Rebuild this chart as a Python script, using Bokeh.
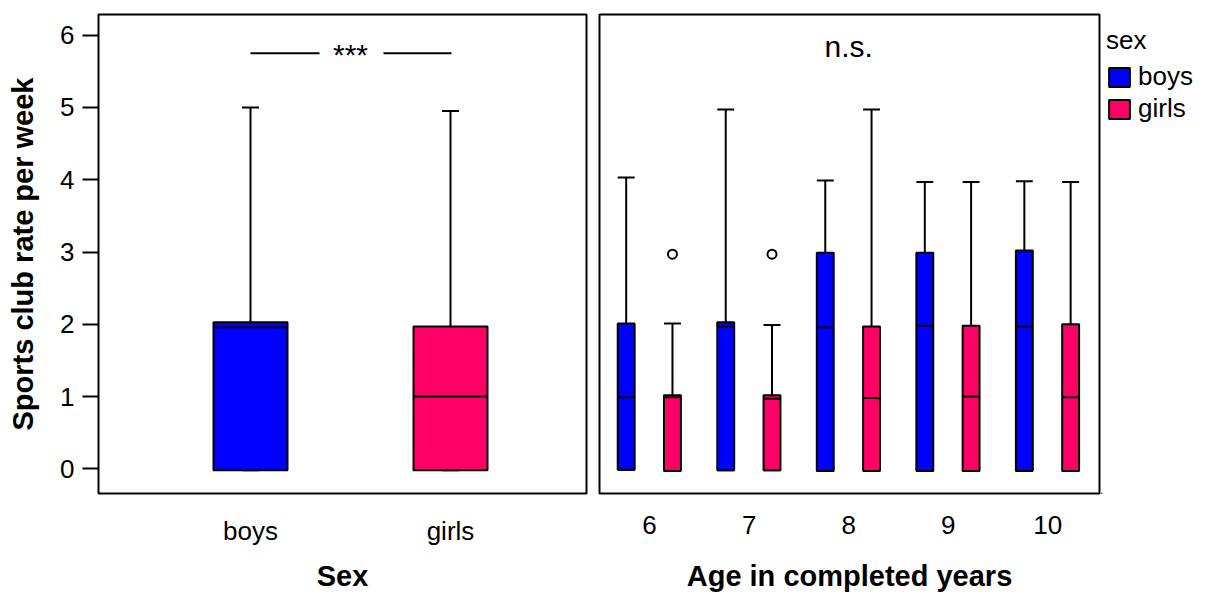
from bokeh.plotting import figure
from bokeh.layouts import row
from bokeh.models import ColumnDataSource, FixedTicker, Legend, LegendItem, Range1d
from bokeh.core.properties import value
from bokeh.embed import file_html
from bokeh.resources import INLINE

FONT = "Liberation Sans"
BLUE = "#0000FF"
PINK = "#FF0066"

# ---- sports club rate by sex (box statistics) ----
sex_labels = ["boys", "girls"]
sex_pos = [1, 2]
sex_lower = [-0.02, -0.02]
sex_q1 = [-0.02, -0.02]
sex_median = [1.96, 1.0]
sex_q3 = [2.03, 1.97]
sex_upper = [5.0, 4.95]
sex_colors = [BLUE, PINK]

# ---- sports club rate by age and sex ----
ages = [6, 7, 8, 9, 10]
age_tick_labels = ["6", "7", "8", "9", "10"]

boys_lower = [-0.01, -0.02, -0.03, -0.03, -0.03]
boys_q1 = [-0.01, -0.02, -0.03, -0.03, -0.03]
boys_median = [0.99, 1.97, 1.96, 1.98, 1.97]
boys_q3 = [2.01, 2.03, 2.99, 2.99, 3.02]
boys_upper = [4.03, 4.97, 3.99, 3.97, 3.98]

girls_lower = [-0.03, -0.02, -0.03, -0.03, -0.03]
girls_q1 = [-0.03, -0.02, -0.03, -0.03, -0.03]
girls_median = [0.99, 0.97, 0.98, 1.0, 0.99]
girls_q3 = [1.02, 1.02, 1.97, 1.98, 2.0]
girls_upper = [2.01, 1.99, 4.97, 3.97, 3.97]

girls_outlier_age = [6, 7]
girls_outlier_value = [2.97, 2.97]

# significance annotations
sig_label = "***"
sig_level = 5.75
ns_label = "n.s."

legend_title = "sex"
legend_labels = ["boys", "girls"]

Y_RANGE = (-0.34, 6.285)
FRAME_H = 479
LABEL_SIZE = "26px"
TITLE_SIZE = "29px"


def style_common(p, title_standoff):
    p.outline_line_color = "black"
    p.outline_line_width = 2
    p.outline_line_alpha = 1
    p.xgrid.visible = False
    p.ygrid.visible = False
    p.background_fill_color = "white"
    p.border_fill_color = "white"
    for ax in p.xaxis:
        ax.axis_line_color = None
        ax.major_tick_line_color = None
        ax.minor_tick_line_color = None
        ax.major_label_text_font = FONT
        ax.major_label_text_font_size = LABEL_SIZE
        ax.major_label_text_color = "black"
        ax.major_label_standoff = 16
        ax.axis_label_text_font = FONT
        ax.axis_label_text_font_size = TITLE_SIZE
        ax.axis_label_text_font_style = "bold"
        ax.axis_label_text_color = "black"
        ax.axis_label_standoff = title_standoff


def draw_boxes(p, x, lower, q1, med, q3, upper, color, box_w, cap_w):
    src = ColumnDataSource(dict(
        x=x, lower=lower, q1=q1, med=med, q3=q3, upper=upper,
        left=[v - box_w / 2 for v in x], right=[v + box_w / 2 for v in x],
        cl=[v - cap_w / 2 for v in x], cr=[v + cap_w / 2 for v in x],
    ))
    # whiskers and caps
    p.segment(x0="x", y0="q3", x1="x", y1="upper", source=src, line_color="black", line_width=2)
    p.segment(x0="x", y0="q1", x1="x", y1="lower", source=src, line_color="black", line_width=2)
    p.segment(x0="cl", y0="upper", x1="cr", y1="upper", source=src, line_color="black", line_width=2)
    p.segment(x0="cl", y0="lower", x1="cr", y1="lower", source=src, line_color="black", line_width=2)
    # box and median
    r = p.vbar(x="x", width=box_w, bottom="q1", top="q3", source=src,
               fill_color=color, line_color="black", line_width=2)
    p.segment(x0="left", y0="med", x1="right", y1="med", source=src, line_color="black", line_width=2)
    return r


# ---------------- left panel: by sex ----------------
p1 = figure(width=592, height=594, output_backend="svg", toolbar_location=None,
            x_range=Range1d(0.24, 2.68), y_range=Range1d(*Y_RANGE),
            min_border_left=98, min_border_right=6, min_border_top=14, min_border_bottom=101)
style_common(p1, 11)

for i in range(len(sex_labels)):
    draw_boxes(p1, [sex_pos[i]], [sex_lower[i]], [sex_q1[i]], [sex_median[i]],
               [sex_q3[i]], [sex_upper[i]], sex_colors[i], 0.37, 0.085)

p1.xaxis.ticker = FixedTicker(ticks=sex_pos)
p1.xaxis.major_label_overrides = {pos: lab for pos, lab in zip(sex_pos, sex_labels)}
p1.xaxis.axis_label = "Sex"

p1.yaxis.ticker = FixedTicker(ticks=[0, 1, 2, 3, 4, 5, 6])
p1.yaxis.axis_line_color = None
p1.yaxis.major_tick_out = 16
p1.yaxis.major_tick_in = 0
p1.yaxis.major_tick_line_width = 2
p1.yaxis.major_tick_line_color = "black"
p1.yaxis.minor_tick_line_color = None
p1.yaxis.major_label_text_font = FONT
p1.yaxis.major_label_text_font_size = LABEL_SIZE
p1.yaxis.major_label_text_color = "black"
p1.yaxis.major_label_standoff = 8
p1.yaxis.axis_label = "Sports club rate per week"
p1.yaxis.axis_label_text_font = FONT
p1.yaxis.axis_label_text_font_size = TITLE_SIZE
p1.yaxis.axis_label_text_font_style = "bold"
p1.yaxis.axis_label_text_color = "black"
p1.yaxis.axis_label_standoff = 18

# significance bracket between the two boxes
p1.segment(x0=[1.0, 1.665], y0=[sig_level, sig_level], x1=[1.345, 2.005], y1=[sig_level, sig_level],
           line_color="black", line_width=2)
p1.text(x=[1.5], y=[sig_level], text=[sig_label], text_font=value(FONT), text_font_size="30px",
        text_align="center", text_baseline="middle", y_offset=1, text_color="black")

# ---------------- right panel: by age ----------------
p2 = figure(width=509, height=594, output_backend="svg", toolbar_location=None,
            x_range=Range1d(5.497, 10.52), y_range=Range1d(*Y_RANGE),
            min_border_left=7, min_border_right=2, min_border_top=14, min_border_bottom=101)
style_common(p2, 23)
p2.yaxis.visible = False

boys_x = [a - 0.235 for a in ages]
girls_x = [a + 0.23 for a in ages]
draw_boxes(p2, boys_x, boys_lower, boys_q1, boys_median, boys_q3, boys_upper, BLUE, 0.17, 0.17)
draw_boxes(p2, girls_x, girls_lower, girls_q1, girls_median, girls_q3, girls_upper, PINK, 0.17, 0.17)

p2.scatter(x=[a + 0.23 for a in girls_outlier_age], y=girls_outlier_value, marker="circle", size=9,
           fill_color=None, line_color="black", line_width=2)

p2.text(x=[8.0], y=[sig_level], text=[ns_label], text_font=value(FONT), text_font_size="30px",
        text_align="center", text_baseline="middle", y_offset=-7, text_color="black")

p2.xaxis.ticker = FixedTicker(ticks=ages)
p2.xaxis.major_label_overrides = {a: lab for a, lab in zip(ages, age_tick_labels)}
p2.xaxis.axis_label = "Age in completed years"

# ---------------- legend strip ----------------
p3 = figure(width=104, height=594, output_backend="svg", toolbar_location=None,
            x_range=Range1d(0, 1), y_range=Range1d(*Y_RANGE),
            min_border_left=0, min_border_right=0, min_border_top=14, min_border_bottom=101)
p3.axis.visible = False
p3.xgrid.visible = False
p3.ygrid.visible = False
p3.outline_line_color = None
p3.background_fill_color = "white"
p3.border_fill_color = "white"

# key proxies: one zero-height bar each, parked well outside this strip's visible ranges
key_src = ColumnDataSource(dict(x=[-5.0], y=[-20.0]))
key_boys = p3.vbar(x="x", top="y", bottom="y", width=0.1, source=key_src,
                   fill_color=BLUE, line_color="black", line_width=2)
key_girls = p3.vbar(x="x", top="y", bottom="y", width=0.1, source=key_src,
                    fill_color=PINK, line_color="black", line_width=2)

legend = Legend(items=[LegendItem(label=legend_labels[0], renderers=[key_boys]),
                       LegendItem(label=legend_labels[1], renderers=[key_girls])],
                title=legend_title, location=(5, FRAME_H - 110))
legend.title_text_font = FONT
legend.title_text_font_size = LABEL_SIZE
legend.title_text_font_style = "normal"
legend.title_text_color = "black"
legend.label_text_font = FONT
legend.label_text_font_size = LABEL_SIZE
legend.label_text_color = "black"
legend.glyph_width = 26
legend.glyph_height = 24
legend.spacing = 1
legend.padding = 4
legend.margin = 0
legend.label_standoff = 6
legend.title_standoff = 5
legend.border_line_color = None
legend.background_fill_alpha = 0
p3.add_layout(legend, "center")

layout = row(p1, p2, p3)
open("out.html", "w").write(file_html(layout, INLINE))
